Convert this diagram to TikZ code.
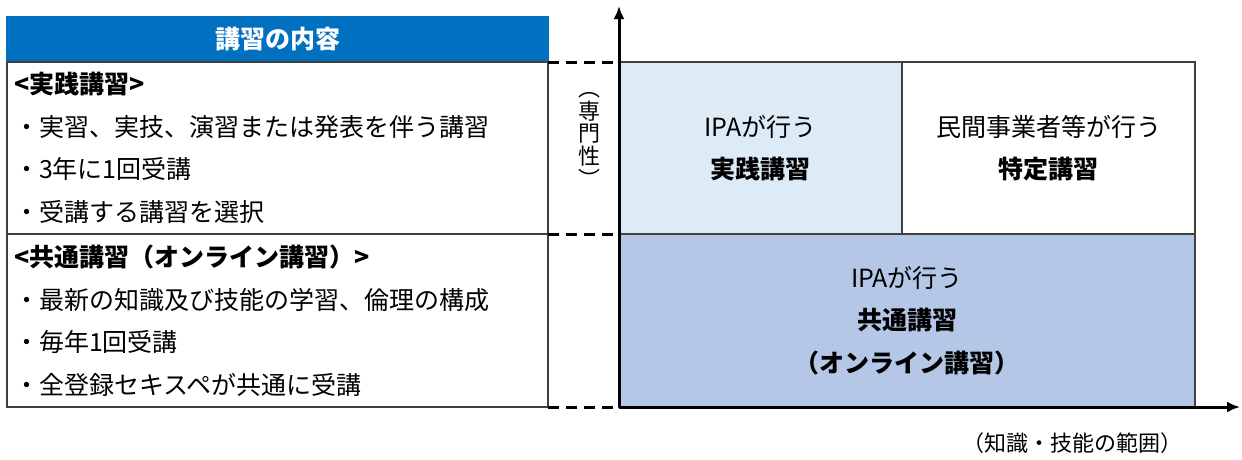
\documentclass[tikz,border=0pt]{standalone}
\usepackage{fontspec}
\setmainfont{Noto Sans CJK JP}
\usetikzlibrary{arrows.meta,positioning}
\definecolor{hdblue}{HTML}{0070C0}
\definecolor{cellpale}{HTML}{DDEBF7}
\definecolor{cellblue}{HTML}{B4C7E7}
\definecolor{rule}{HTML}{404040}
\tikzset{
  basic/.style   = {draw=rule, line width=1.6pt, inner sep=0pt, outer sep=0pt,
                    font=\fontsize{25}{42.5}\selectfont},
  head/.style    = {basic, draw=hdblue, fill=hdblue, text=white,
                    font=\fontsize{25}{30}\selectfont\bfseries,
                    minimum width=541pt, minimum height=45pt},
  listbox/.style = {basic, align=left, text width=527pt, inner xsep=7pt},
  cell/.style    = {basic, align=center},
  axis/.style    = {line width=3pt, -{Latex[length=13pt,width=11pt]}},
  guide/.style   = {line width=3pt, dash pattern=on 11pt off 7pt}
}

\begin{document}
\begin{tikzpicture}[x=1pt, y=-1pt]
\useasboundingbox (0,0) rectangle (1242,459);

% left table: heading and the two kinds of course
\node[head] (h) at (277.5,39.5) {講習の内容};
\node[listbox, minimum height=172pt, below=0pt of h] (p1)
  {\textbf{<実践講習>}\\・実習、実技、演習または発表を伴う講習\\・3年に1回受講\\・受講する講習を選択};
\node[listbox, minimum height=173pt, below=0pt of p1] (p2)
  {\textbf{<共通講習（オンライン講習）>}\\・最新の知識及び技能の学習、倫理の構成\\・毎年1回受講\\・全登録セキスペが共通に受講};

% right chart, cells relatively positioned
\node[cell, fill=cellpale, minimum width=283pt, minimum height=172pt] (c1) at (760.5,148)
  {IPAが行う\\\textbf{実践講習}};
\node[cell, minimum width=293pt, minimum height=172pt, right=0pt of c1] (c2)
  {民間事業者等が行う\\\textbf{特定講習}};
\node[cell, fill=cellblue, minimum width=576pt, minimum height=173pt,
      below right=0pt and 0pt of c1.south west] (c3)
  {IPAが行う\\\textbf{共通講習}\\\textbf{（オンライン講習）}};

% axes
\coordinate (o) at (c3.south west);
\coordinate (ytop) at (619,6);
\coordinate (xend) at (1240,407);
\draw[axis] (o) -- (ytop);
\draw[axis] (o) -- (xend);

% dashed guides from the table to the chart
\foreach \from/\to in {p1.north east/c1.north west, p1.south east/c3.north west, p2.south east/c3.south west}
  \draw[guide] (\from) -- (\to);

% axis labels
\node[inner sep=0pt, font=\fontsize{22}{22}\selectfont] (vlab) at (589,140) {\shortstack{︵\\専\\門\\性\\︶}};
\node[inner sep=0pt, font=\fontsize{22}{26}\selectfont] (xlab) at (1072,443) {（知識・技能の範囲）};
\end{tikzpicture}
\end{document}
